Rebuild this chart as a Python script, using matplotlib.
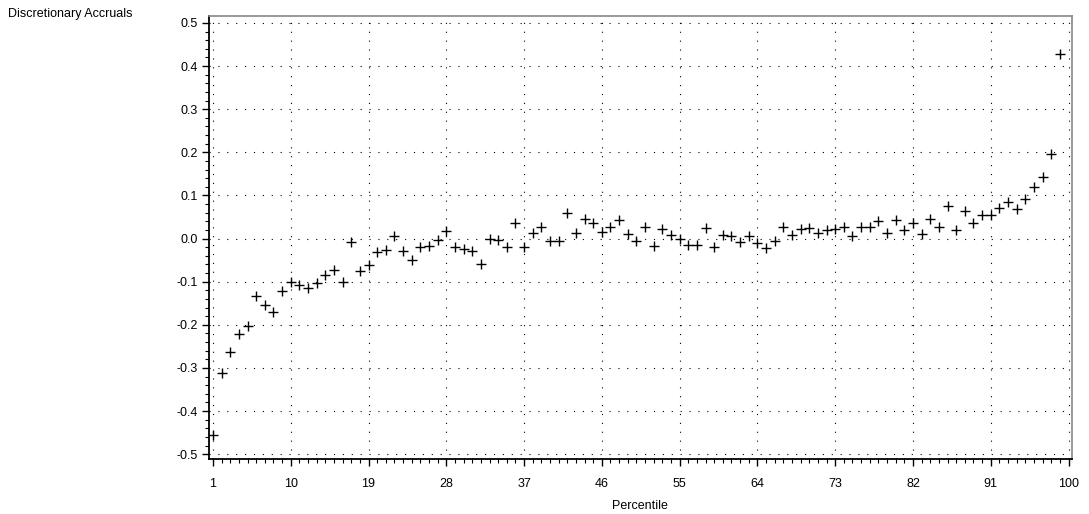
import matplotlib
matplotlib.use("Agg")
import matplotlib.pyplot as plt
from matplotlib.ticker import MultipleLocator, FixedLocator
import numpy as np

percentile = list(range(1, 100))
accruals = [
    -0.455, -0.312, -0.264, -0.221, -0.202, -0.132, -0.153, -0.171, -0.121, -0.101,
    -0.108, -0.114, -0.102, -0.085, -0.073, -0.100, -0.007, -0.075, -0.062, -0.030,
    -0.026, 0.005, -0.028, -0.049, -0.019, -0.018, -0.003, 0.018, -0.019, -0.025,
    -0.029, -0.060, -0.001, -0.004, -0.019, 0.036, -0.019, 0.012, 0.026, -0.005,
    -0.005, 0.059, 0.012, 0.046, 0.037, 0.015, 0.027, 0.042, 0.010, -0.005,
    0.028, -0.018, 0.022, 0.009, -0.001, -0.014, -0.014, 0.025, -0.019, 0.008,
    0.007, -0.009, 0.005, -0.011, -0.022, -0.006, 0.026, 0.009, 0.022, 0.025,
    0.012, 0.021, 0.023, 0.026, 0.006, 0.027, 0.027, 0.040, 0.012, 0.042,
    0.021, 0.035, 0.010, 0.045, 0.028, 0.075, 0.021, 0.065, 0.035, 0.054,
    0.054, 0.070, 0.084, 0.068, 0.092, 0.119, 0.142, 0.195, 0.427,
]
x_ticks = [1, 10, 19, 28, 37, 46, 55, 64, 73, 82, 91, 100]
y_ticks = [-0.5, -0.4, -0.3, -0.2, -0.1, 0.0, 0.1, 0.2, 0.3, 0.4, 0.5]

plt.rcParams['font.family'] = ['Liberation Sans', 'DejaVu Sans']

fig = plt.figure(figsize=(10.89, 5.14), dpi=100)
ax = fig.add_axes([209/1089, 1 - 459/514, (1071.7 - 209)/1089, (459 - 16)/514])

ax.plot(percentile, accruals, linestyle='none', marker='+', color='black',
        markersize=7, markeredgewidth=1.0, zorder=3)

ax.set_xlim(0.54, 100.37)
ax.set_ylim(-0.511, 0.516)

ax.xaxis.set_major_locator(FixedLocator(x_ticks))
ax.xaxis.set_minor_locator(MultipleLocator(1))
ax.yaxis.set_major_locator(FixedLocator(y_ticks))
ax.yaxis.set_minor_locator(MultipleLocator(0.02))
ax.set_xticklabels([str(t) for t in x_ticks])
ax.set_yticklabels(["%.1f" % t for t in y_ticks])

ax.grid(True, which='major', linestyle=(0, (1, 7)), color='black', linewidth=0.8)

ax.tick_params(axis='both', which='major', direction='out', length=5, width=1,
               labelsize=9, color='black')
ax.tick_params(axis='both', which='minor', direction='out', length=3, width=0.8,
               color='black')
ax.tick_params(axis='x', which='major', pad=9)
ax.tick_params(axis='y', which='major', pad=3)

for side in ['left', 'bottom']:
    ax.spines[side].set_color('black')
    ax.spines[side].set_linewidth(1.3)
for side in ['top', 'right']:
    ax.spines[side].set_color('#888888')
    ax.spines[side].set_linewidth(1.2)

ax.set_xlabel('Percentile', fontsize=9, labelpad=7)
fig.text(8/1089, 1 - 14/514, 'Discretionary Accruals', fontsize=9,
         ha='left', va='center')

fig.savefig('out.png', dpi=100)
